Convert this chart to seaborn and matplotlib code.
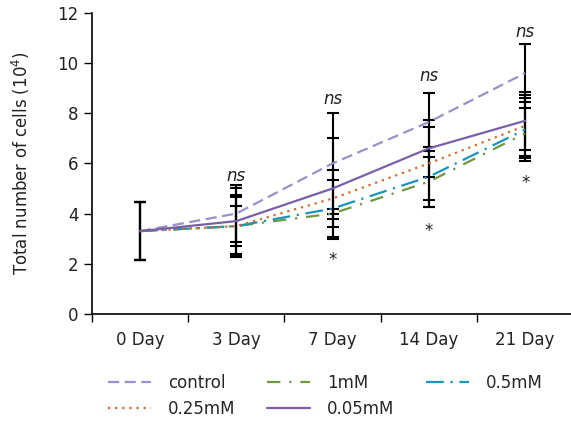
import numpy as np
import pandas as pd
import matplotlib.pyplot as plt
import seaborn as sns

# Data
days = ["0 Day", "3 Day", "7 Day", "14 Day", "21 Day"]
series = ["control", "1mM", "0.5mM", "0.25mM", "0.05mM"]
control = [3.3, 4.0, 6.0, 7.65, 9.6]
mm1 = [3.3, 3.5, 4.0, 5.27, 7.2]
mm05 = [3.3, 3.5, 4.2, 5.47, 7.35]
mm025 = [3.3, 3.5, 4.6, 6.0, 7.5]
mm005 = [3.3, 3.7, 5.0, 6.6, 7.7]
err_control = [1.15, 1.15, 2.0, 1.15, 1.16]
err_1mm = [1.15, 0.8, 0.2, 1.0, 1.0]
err_05mm = [1.15, 1.15, 1.14, 1.2, 1.25]
err_025mm = [1.15, 1.25, 1.14, 1.45, 1.22]
err_005mm = [1.15, 1.3, 2.0, 1.13, 1.15]
ns_y = [None, 5.5, 8.55, 9.5, 11.25]
star_y = [None, None, 2.15, 3.3, 5.2]

values = [control, mm1, mm05, mm025, mm005]
errors = [err_control, err_1mm, err_05mm, err_025mm, err_005mm]

rows = []
for name, vals in zip(series, values):
    for i, v in enumerate(vals):
        rows.append({"x": i, "value": v, "group": name})
df = pd.DataFrame(rows)

colors = {"control": "#9d8fcb", "1mM": "#6f9640", "0.5mM": "#1a93bd",
          "0.25mM": "#d4692a", "0.05mM": "#7a5fa6"}
dashes = {"control": (5, 2.5), "1mM": (6, 4, 1, 4), "0.5mM": (8, 3, 1, 3),
          "0.25mM": (1, 2.2), "0.05mM": ""}

sns.set_style("white")
plt.rcParams["font.family"] = ["DejaVu Sans"]

fig = plt.figure(figsize=(5.71, 4.3), dpi=100)
ax = fig.add_axes([0.161, 0.270, 0.843, 0.700])

# error bars first, black
for vals, errs in zip(values, errors):
    ax.errorbar(range(len(days)), vals, yerr=errs, fmt="none", ecolor="black",
                elinewidth=1.5, capsize=4, capthick=1.5, zorder=1)

sns.lineplot(data=df, x="x", y="value", hue="group", style="group",
             palette=colors, dashes=dashes, hue_order=series, style_order=series,
             linewidth=1.6, ax=ax, zorder=2, legend=True)

for i in range(len(days)):
    if ns_y[i] is not None:
        ax.text(i, ns_y[i], "ns", style="italic", ha="center", va="center",
                fontsize=12, color="#222222")
    if star_y[i] is not None:
        ax.text(i, star_y[i], "*", ha="center", va="center",
                fontsize=12, color="#222222")

ax.set_xlim(-0.5, 4.5)
ax.set_ylim(0, 12)
ax.set_yticks(np.arange(0, 13, 2))
ax.set_xticks(np.arange(-0.5, 4.5, 1))
ax.set_xticklabels([])
ax.set_xticks(range(len(days)), minor=True)
ax.set_xticklabels(days, minor=True)
ax.tick_params(axis="x", which="major", bottom=True, direction="out", length=6,
               width=1, color="black")
ax.tick_params(axis="x", which="minor", bottom=True, length=0, labelsize=12, pad=12,
               labelcolor="#222222")
ax.tick_params(axis="y", left=True, direction="out", length=6, width=1, labelsize=12,
               labelcolor="#222222", color="black")
ax.set_xlabel("")
ax.set_ylabel("Total number of cells (10$^4$)", fontsize=12, color="#222222", labelpad=18)
for s in ["top", "right"]:
    ax.spines[s].set_visible(False)
for s in ["left", "bottom"]:
    ax.spines[s].set_color("black")
    ax.spines[s].set_linewidth(1.2)

handles, labels = ax.get_legend_handles_labels()
lookup = dict(zip(labels, handles))
order = ["control", "0.25mM", "1mM", "0.05mM", "0.5mM"]
ax.legend([lookup[k] for k in order], order, ncol=3, frameon=False,
          loc="upper center", bbox_to_anchor=(0.485, -0.15), fontsize=12,
          handlelength=2.6, columnspacing=1.9, labelspacing=0.45, handletextpad=1.0)

fig.savefig("out.png", dpi=100)
